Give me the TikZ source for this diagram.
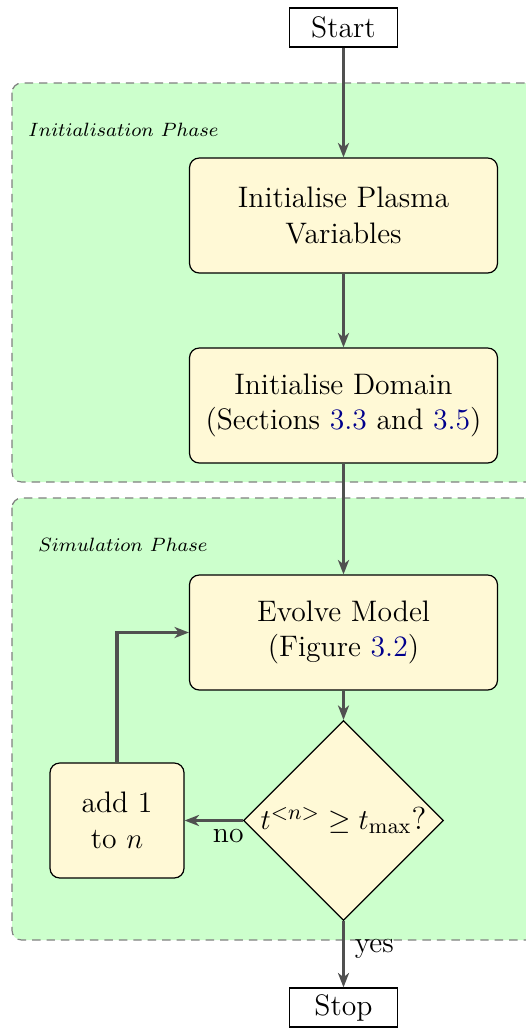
\documentclass[tikz,border=0pt]{standalone}
\usetikzlibrary{shapes.geometric,arrows.meta}
\definecolor{bggreen}{HTML}{CCFFCC}
\definecolor{boxyellow}{HTML}{FFF9D6}
\definecolor{arrowgray}{HTML}{505050}
\definecolor{linkblue}{rgb}{0,0,0.55}
\definecolor{dashgray}{HTML}{808080}
\begin{document}
\begin{tikzpicture}[x=0.415pt,y=-0.415pt,
 phase/.style={fill=bggreen, draw=dashgray, dash pattern=on 3.5pt off 2.5pt, rounded corners=4pt, line width=0.5pt},
 phaselabel/.style={anchor=west, inner sep=0pt, font=\fontsize{8.4}{10}\selectfont},
 terminal/.style={draw, fill=white, minimum width=44.8pt, minimum height=16.2pt, inner sep=0pt, font=\fontsize{12.3}{14.8}\selectfont, line width=0.5pt},
 process/.style={draw, fill=boxyellow, rounded corners=4pt, minimum width=127.8pt, minimum height=47.7pt, align=center, inner sep=0pt, font=\fontsize{12.3}{14.8}\selectfont, line width=0.5pt},
 smallproc/.style={process, minimum width=55.6pt},
 decision/.style={draw, fill=boxyellow, diamond, aspect=1, minimum width=83pt, minimum height=83pt, inner sep=0pt, font=\fontsize{13.2}{15.8}\selectfont, line width=0.5pt},
 flow/.style={draw=arrowgray, line width=1.4pt, -{Stealth[length=6pt,width=4.6pt,inset=1.8pt]}},
 edgelabel/.style={font=\fontsize{12.3}{14.8}\selectfont, inner sep=1pt}
]
\clip (0,0) rectangle (526,1030);
\draw[phase] (12,83) rectangle (560,482);
\draw[phase] (12,498) rectangle (560,940);
\node[phaselabel] (initlabel) at (28,130) {$Initialisation\ Phase$};
\node[phaselabel] (simlabel) at (38,545) {$Simulation\ Phase$};

\node[terminal] (start) at (343.5,27.5) {Start};
\node[process] (plasma) at (343.5,215.5) {Initialise Plasma\\Variables};
\node[process] (domain) at (343.5,405.5) {Initialise Domain\\(Sections \textcolor{linkblue}{3.3} and \textcolor{linkblue}{3.5})};
\node[process] (evolve) at (343.5,632.5) {Evolve Model\\(Figure \textcolor{linkblue}{3.2})};
\node[decision] (check) at (343.5,820.5) {$t^{<n>}\geq t_{\max}$?};
\node[smallproc] (add) at (117,820.5) {add 1\\to $n$};
\node[terminal] (stop) at (343.5,1007.5) {Stop};

\draw[flow] (start) -- (plasma);
\draw[flow] (plasma) -- (domain);
\draw[flow] (domain) -- (evolve);
\draw[flow] (evolve) -- (check);
\draw[flow] (check) -- node[edgelabel, anchor=north east, pos=0, yshift=-2pt, xshift=2pt]{no} (add);
\draw[flow] (check) -- node[edgelabel, anchor=west, pos=0.42, xshift=3pt]{yes} (stop);
\draw[flow] (add.north) |- (evolve.west);
\end{tikzpicture}
\end{document}
